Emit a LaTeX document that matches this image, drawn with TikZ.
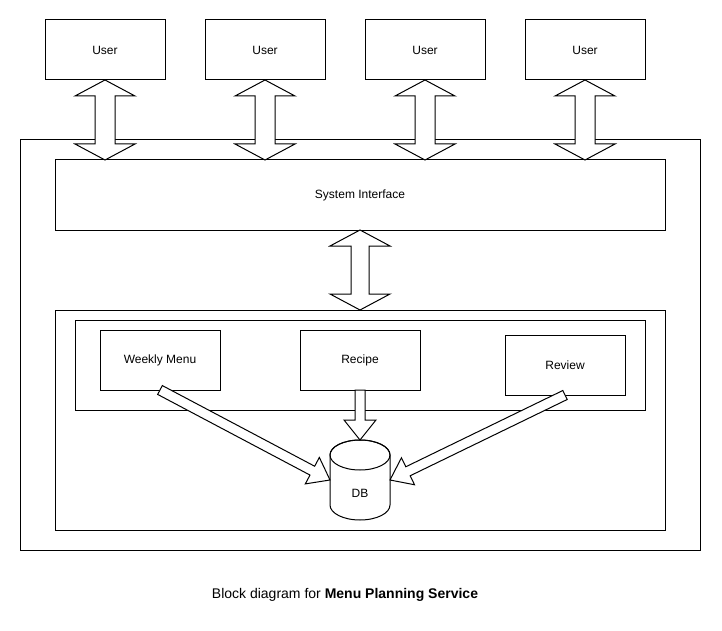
\documentclass[tikz,border=0pt]{standalone}
\usepackage{fontspec}
\setmainfont{Liberation Sans}
\usetikzlibrary{calc}
\tikzset{
  box/.style={draw=black, line width=1pt, fill=white, inner sep=0pt, outer sep=0pt,
              font=\fontsize{12}{14}\selectfont},
  flexarrow/.style={draw=black, fill=white, line width=1pt, line join=miter},
}
% single block arrow: #1 tail, #2 tip, #3 shaft half width, #4 head half width, #5 head length
\newcommand\flexone[5]{%
  \path ($(#2)!#5!(#1)$) coordinate (fhb);
  \filldraw[flexarrow] ($(#1)!#3!90:(#2)$) -- ($(fhb)!#3!-90:(#1)$) -- ($(fhb)!#4!-90:(#1)$)
    -- (#2) -- ($(fhb)!#4!90:(#1)$) -- ($(fhb)!#3!90:(#1)$) -- ($(#1)!#3!-90:(#2)$) -- cycle;
}
% double block arrow
\newcommand\flextwo[5]{%
  \path ($(#1)!#5!(#2)$) coordinate (fha) ($(#2)!#5!(#1)$) coordinate (fhb);
  \filldraw[flexarrow] (#1) -- ($(fha)!#4!90:(#2)$) -- ($(fha)!#3!90:(#2)$)
    -- ($(fhb)!#3!-90:(#1)$) -- ($(fhb)!#4!-90:(#1)$) -- (#2)
    -- ($(fhb)!#4!90:(#1)$) -- ($(fhb)!#3!90:(#1)$)
    -- ($(fha)!#3!-90:(#2)$) -- ($(fha)!#4!-90:(#2)$) -- cycle;
}
\begin{document}
\begin{tikzpicture}[x=1pt,y=-1pt]
\useasboundingbox (0,0) rectangle (722,631);
\fill[white] (0,0) rectangle (722,631);

% user boxes
\foreach \i/\x in {1/105,2/265,3/425,4/585}{
  \node[box, minimum width=120pt, minimum height=60pt] (u\i) at (\x,50) {User};
}
% outer container
\node[box, minimum width=680pt, minimum height=410pt] (outer) at (360,345) {};
\node[box, minimum width=610pt, minimum height=70pt] (si) at (360,195) {System Interface};
\node[box, minimum width=610pt, minimum height=220pt] (mid) at (360,420) {};
\node[box, minimum width=570pt, minimum height=90pt] (inner) at (360,365) {};
\node[box, minimum width=120pt, minimum height=60pt] (wm) at (160,360) {Weekly Menu};
\node[box, minimum width=120pt, minimum height=60pt] (rc) at (360,360) {Recipe};
\node[box, minimum width=120pt, minimum height=60pt] (rv) at (565,365) {Review};

% DB cylinder
\node[inner sep=0pt, outer sep=0pt, minimum width=60pt, minimum height=80pt] (db) at (360,480) {};
\filldraw[draw=black, fill=white, line width=1pt]
  ($(db.north west)+(0,15)$) -- ($(db.south west)+(0,-15)$)
  arc[start angle=180, end angle=0, x radius=30, y radius=15]
  -- ($(db.north east)+(0,15)$)
  arc[start angle=0, end angle=-180, x radius=30, y radius=15];
\draw[line width=1pt] ($(db.north)+(0,15)$) ellipse [x radius=30, y radius=15];
\node[font=\fontsize{12}{14}\selectfont] (dblabel) at (360,493) {DB};

% user <-> system interface arrows
\foreach \i in {1,2,3,4}{
  \coordinate (a\i) at (u\i.south |- si.north);
  \flextwo{u\i.south}{a\i}{10pt}{30pt}{16pt}
}
% system interface <-> components
\flextwo{si.south}{mid.north}{9pt}{30pt}{16pt}

% component -> DB arrows
\flexone{wm.south}{db.west}{5pt}{15pt}{20pt}
\flexone{rc.south}{db.north}{5pt}{16pt}{20pt}
\flexone{rv.south}{db.east}{5pt}{15pt}{20pt}

% caption
\node[font=\fontsize{14}{17}\selectfont] (caption) at (345,595)
  {Block diagram for \textbf{Menu Planning Service}};
\end{tikzpicture}
\end{document}
